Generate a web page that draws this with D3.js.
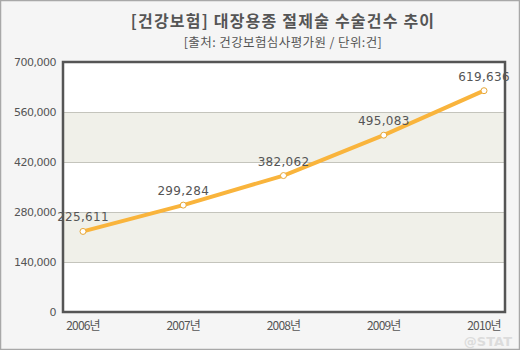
<!DOCTYPE html>
<html><head><meta charset="utf-8">
<script src="https://cdn.jsdelivr.net/npm/d3@7"></script>
<style>body{margin:0;background:#fff}svg{display:block}</style>
</head><body>
<script>
const years = ["2006년","2007년","2008년","2009년","2010년"];
const values = [225611, 299284, 382062, 495083, 619636];
const yTicks = [0,140000,280000,420000,560000,700000];
const title = "[건강보험] 대장용종 절제술 수술건수 추이";
const subtitle = "[출처: 건강보험심사평가원 / 단위:건]";

const W=520,H=350;
const svg=d3.select("body").append("svg").attr("width",W).attr("height",H);
svg.append("rect").attr("x",0.5).attr("y",0.5).attr("width",W-1).attr("height",H-1)
  .attr("fill","#f5f5f5").attr("stroke","#a8a8a8").attr("stroke-width",1.5);

const L=63,R=505,T=62,B=312;
const y=d3.scaleLinear().domain([0,700000]).range([B,T]);
const x=d3.scalePoint().domain(years).range([83,484]);

svg.append("rect").attr("x",L).attr("y",T).attr("width",R-L).attr("height",B-T).attr("fill","#ffffff");
[[140000,280000],[420000,560000]].forEach(([a,b])=>{
  svg.append("rect").attr("x",L).attr("y",y(b)).attr("width",R-L).attr("height",y(a)-y(b)).attr("fill","#f0f0e9");
});
svg.append("g").selectAll("line").data(yTicks.slice(1,-1)).join("line")
  .attr("x1",L).attr("x2",R).attr("y1",d=>y(d)+0.5).attr("y2",d=>y(d)+0.5)
  .attr("stroke","#c4c4bc").attr("stroke-width",1);
svg.append("rect").attr("x",L).attr("y",T).attr("width",R-L).attr("height",B-T)
  .attr("fill","none").attr("stroke","#555").attr("stroke-width",2.5);

const fmt=d3.format(",");
svg.append("g").selectAll("text").data(yTicks).join("text")
  .attr("x",L-7).attr("y",d=>y(d)+4).attr("text-anchor","end")
  .attr("font-family","DejaVu Sans, sans-serif").attr("font-size",11).attr("letter-spacing","-0.5")
  .attr("fill","#555").text(d=>fmt(d));
svg.append("g").selectAll("text").data(years).join("text")
  .attr("x",d=>x(d)).attr("y",330).attr("text-anchor","middle")
  .attr("font-family","Noto Sans CJK KR, sans-serif").attr("font-size",12).attr("letter-spacing","-0.8")
  .attr("fill","#555").text(d=>d);

const data=years.map((d,i)=>({k:d,v:values[i]}));
svg.append("path").datum(data).attr("fill","none").attr("stroke","#f9b43c").attr("stroke-width",4)
  .attr("stroke-linejoin","round")
  .attr("d",d3.line().x(d=>x(d.k)).y(d=>y(d.v)));
svg.append("g").selectAll("circle").data(data).join("circle")
  .attr("cx",d=>x(d.k)).attr("cy",d=>y(d.v)).attr("r",3)
  .attr("fill","#fff").attr("stroke","#e8a838").attr("stroke-width",1);
svg.append("g").selectAll("text").data(data).join("text")
  .attr("x",d=>x(d.k)).attr("y",d=>y(d.v)-10).attr("text-anchor","middle")
  .attr("font-family","DejaVu Sans, sans-serif").attr("font-size",12).attr("letter-spacing","0.3")
  .attr("fill","#555").text(d=>fmt(d.v));

svg.append("text").attr("x",283).attr("y",27).attr("text-anchor","middle")
  .attr("font-family","Noto Sans CJK KR, sans-serif").attr("font-size",16).attr("font-weight","bold")
  .attr("letter-spacing","1.2").attr("fill","#555").text(title);
svg.append("text").attr("x",283).attr("y",47).attr("text-anchor","middle")
  .attr("font-family","Noto Sans CJK KR, sans-serif").attr("font-size",12.5)
  .attr("letter-spacing","0.4").attr("fill","#555").text(subtitle);
svg.append("text").attr("x",512).attr("y",346).attr("text-anchor","end")
  .attr("font-family","DejaVu Sans, sans-serif").attr("font-size",13).attr("font-weight","bold")
  .attr("fill","#dcdcdc").text("@STAT");
</script>
</body></html>
